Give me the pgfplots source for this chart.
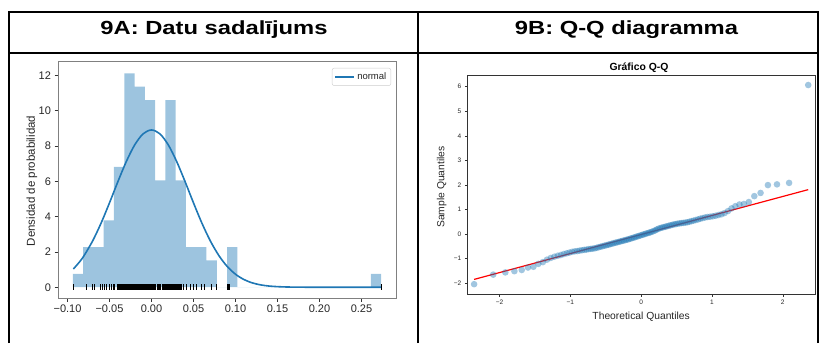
\documentclass[border=0pt]{standalone}
\usepackage{pgfplots}
\pgfplotsset{compat=1.18}
\usepackage{fontspec}
\setmainfont{Liberation Sans}
\usepackage{graphicx}
\definecolor{c0}{HTML}{1F77B4}
\definecolor{barblue}{RGB}{157,196,223}
\begin{document}
\begin{tikzpicture}
\path[use as bounding box] (0pt,0pt) rectangle (821pt,343pt);
% table lines
\draw[line width=2pt] (9pt,0pt) -- (9pt,331pt);
\draw[line width=2pt] (417.5pt,0pt) -- (417.5pt,331pt);
\draw[line width=2pt] (818pt,0pt) -- (818pt,331pt);
\draw[line width=2pt] (8pt,331pt) -- (819pt,331pt);
\draw[line width=2pt] (8pt,289.7pt) -- (819pt,289.7pt);
\node[anchor=base, inner sep=0pt] at (214pt,308.7pt) {\scalebox{1.25}[1]{\fontsize{19}{19}\selectfont\bfseries 9A: Datu sadalījums}};
\node[anchor=base, inner sep=0pt] at (626.5pt,308.7pt) {\scalebox{1.25}[1]{\fontsize{19}{19}\selectfont\bfseries 9B: Q-Q diagramma}};
\node[anchor=base, inner sep=0pt] at (639pt,272.3pt) {\fontsize{10.4}{10.4}\selectfont\bfseries Gráfico Q-Q};

% ---- left: histogram ----
\begin{axis}[
  at={(58pt,45pt)}, anchor=south west, scale only axis,
  width=338pt, height=237pt,
  xmin=-0.1113, xmax=0.2911, ymin=-0.61, ymax=12.81,
  xtick={-0.10,-0.05,0,0.05,0.10,0.15,0.20,0.25},
  xticklabels={−0.10,−0.05,0.00,0.05,0.10,0.15,0.20,0.25},
  ytick={0,2,4,6,8,10,12}, yticklabels={0,2,4,6,8,10,12},
  tick align=outside, xtick pos=left, ytick pos=left,
  major tick length=3.5pt,
  tick style={black!80, line width=0.6pt},
  axis line style={black!50, line width=0.8pt},
  ticklabel style={font=\fontsize{11}{11}\selectfont, text=black!85},
  ylabel={Densidad de probabilidad},
  ylabel style={at={(axis description cs:-0.0769,0.494)}, anchor=center, font=\fontsize{11.5}{11.5}\selectfont, text=black!85},
  legend style={at={(1,1)}, anchor=north east, xshift=-5pt, yshift=-7pt, draw=black!20, rounded corners=2pt, font=\fontsize{9.5}{9.5}\selectfont, inner sep=2.5pt, text=black!85},
  legend cell align=left,
  legend image code/.code={\draw[#1] (0pt,0pt) -- (19pt,0pt);},
]
\addplot[ybar interval, fill=barblue, draw=none, forget plot] coordinates {
(-0.0936,0.757) (-0.0814,2.271) (-0.0691,2.271) (-0.0569,3.785) (-0.0447,6.813)
(-0.0324,12.11) (-0.0202,11.36) (-0.0080,10.60) (0.0043,6.056) (0.0165,10.60)
(0.0287,6.056) (0.0410,2.271) (0.0532,2.271) (0.0654,1.514) (0.0777,0)
(0.0899,2.271) (0.1021,0) (0.2611,0.757) (0.2733,0.757)
};
\addplot[only marks, mark=|, mark size=3pt, black, mark options={line width=0.8pt}, forget plot] coordinates {
(-0.0931,0) (-0.0776,0) (-0.0707,0) (-0.0700,0) (-0.0683,0) (-0.0606,0) (-0.0580,0)
(-0.0561,0) (-0.0533,0) (-0.0500,0) (-0.0472,0) (-0.0455,0)
(-0.0443,0) (-0.0410,0) (-0.0395,0) (-0.0380,0) (-0.0366,0) (-0.0355,0) (-0.0346,0) (-0.0337,0) (-0.0328,0)
(-0.0320,0) (-0.0313,0) (-0.0305,0) (-0.0297,0) (-0.0290,0) (-0.0282,0) (-0.0275,0) (-0.0267,0)
(-0.0260,0) (-0.0252,0) (-0.0245,0) (-0.0237,0) (-0.0230,0) (-0.0222,0) (-0.0214,0) (-0.0207,0)
(-0.0198,0) (-0.0190,0) (-0.0182,0) (-0.0174,0) (-0.0166,0) (-0.0158,0) (-0.0150,0) (-0.0142,0)
(-0.0134,0) (-0.0126,0) (-0.0118,0) (-0.0110,0) (-0.0102,0) (-0.0094,0) (-0.0086,0)
(-0.0076,0) (-0.0068,0) (-0.0059,0) (-0.0050,0) (-0.0042,0) (-0.0033,0) (-0.0024,0) (-0.0016,0)
(-0.0007,0) (0.0002,0) (0.0011,0) (0.0020,0) (0.0029,0) (0.0038,0)
(0.0050,0) (0.0066,0) (0.0081,0) (0.0096,0) (0.0112,0) (0.0127,0) (0.0143,0) (0.0158,0)
(0.0169,0) (0.0177,0) (0.0186,0) (0.0194,0) (0.0203,0) (0.0211,0) (0.0220,0) (0.0228,0)
(0.0237,0) (0.0245,0) (0.0254,0) (0.0262,0) (0.0271,0) (0.0280,0)
(0.0292,0) (0.0300,0) (0.0309,0) (0.0318,0) (0.0330,0) (0.0345,0) (0.0362,0) (0.0385,0)
(0.0420,0) (0.0460,0) (0.0496,0) (0.0540,0) (0.0600,0) (0.0630,0) (0.0710,0) (0.0770,0)
(0.0905,0) (0.0915,0) (0.0925,0) (0.2733,0)
};
\addplot[c0, line width=1.6pt, smooth] coordinates {
(-0.093,1.032) (-0.085,1.472) (-0.08,1.809) (-0.07,2.627) (-0.06,3.631) (-0.05,4.777)
(-0.04,5.978) (-0.03,7.116) (-0.02,8.060) (-0.01,8.686) (0,8.905) (0.01,8.686) (0.02,8.060)
(0.03,7.116) (0.04,5.978) (0.05,4.777) (0.06,3.631) (0.07,2.627) (0.08,1.809) (0.09,1.183)
(0.10,0.737) (0.11,0.437) (0.12,0.246) (0.13,0.132) (0.14,0.067) (0.15,0.033) (0.16,0.015)
(0.17,0.006) (0.18,0.002) (0.20,0.0) (0.23,0) (0.2733,0)
};
\addlegendentry{normal}
\end{axis}

% ---- right: Q-Q ----
\begin{axis}[
  at={(467.3pt,49pt)}, anchor=south west, scale only axis,
  width=347.7pt, height=218.3pt,
  xmin=-2.455, xmax=2.455, ymin=-2.45, ymax=6.45,
  xtick={-2,-1,0,1,2}, xticklabels={−2,−1,0,1,2},
  ytick={-2,-1,0,1,2,3,4,5,6}, yticklabels={−2,−1,0,1,2,3,4,5,6},
  tick align=outside, xtick pos=left, ytick pos=left,
  major tick length=2.5pt,
  tick style={black!80, line width=0.5pt},
  axis line style={black!80, line width=0.8pt},
  ticklabel style={font=\fontsize{6.5}{6.5}\selectfont, text=black!85},
  xlabel={Theoretical Quantiles},
  xlabel style={at={(axis description cs:0.5,0)}, anchor=center, yshift=-22.7pt, font=\fontsize{10.3}{10.3}\selectfont, text=black!85},
  ylabel={Sample Quantiles},
  ylabel style={at={(axis description cs:-0.0736,0.49)}, anchor=center, font=\fontsize{10.3}{10.3}\selectfont, text=black!85},
]
\addplot[only marks, mark=*, mark size=3.3pt, color=c0, mark options={draw opacity=0, fill=c0, fill opacity=0.42}] coordinates {
(-2.359,-2.05) (-2.089,-1.66) (-1.918,-1.57) (-1.790,-1.52) (-1.686,-1.47) (-1.598,-1.37)
(-1.521,-1.34) (-1.451,-1.22) (-1.388,-1.15) (-1.330,-1.05) (-1.276,-0.98) (-1.226,-0.93)
(-1.178,-0.89) (-1.134,-0.86) (-1.092,-0.82) (-1.051,-0.79) (-1.012,-0.76) (-0.974,-0.73)
(-0.937,-0.71) (-0.902,-0.70) (-0.868,-0.68) (-0.835,-0.665) (-0.803,-0.65) (-0.772,-0.64)
(-0.741,-0.62) (-0.711,-0.61) (-0.682,-0.60) (-0.653,-0.585) (-0.625,-0.565) (-0.597,-0.54)
(-0.570,-0.52) (-0.543,-0.50) (-0.516,-0.48) (-0.490,-0.46) (-0.464,-0.44) (-0.439,-0.42)
(-0.414,-0.40) (-0.389,-0.38) (-0.364,-0.36) (-0.340,-0.343) (-0.316,-0.324) (-0.292,-0.306)
(-0.268,-0.287) (-0.244,-0.269) (-0.220,-0.25) (-0.197,-0.232) (-0.174,-0.215) (-0.150,-0.19)
(-0.127,-0.17) (-0.104,-0.15) (-0.081,-0.128) (-0.058,-0.105) (-0.035,-0.087) (-0.012,-0.064)
(0.012,-0.041) (0.035,-0.023) (0.058,0.000) (0.081,0.023) (0.104,0.040) (0.127,0.063)
(0.150,0.086) (0.174,0.115) (0.197,0.142) (0.220,0.18) (0.244,0.209) (0.268,0.237)
(0.292,0.256) (0.316,0.274) (0.340,0.293) (0.364,0.311) (0.389,0.331) (0.414,0.35)
(0.439,0.369) (0.464,0.389) (0.490,0.399) (0.516,0.419) (0.543,0.43) (0.570,0.441)
(0.597,0.451) (0.625,0.463) (0.653,0.475) (0.682,0.497) (0.711,0.52) (0.741,0.543)
(0.772,0.567) (0.803,0.591) (0.835,0.62) (0.868,0.645) (0.902,0.67) (0.937,0.69)
(0.974,0.70) (1.012,0.72) (1.051,0.74) (1.092,0.77) (1.134,0.80) (1.178,0.85)
(1.226,0.93) (1.276,1.04) (1.330,1.13) (1.388,1.20) (1.451,1.22) (1.521,1.30)
(1.598,1.54) (1.686,1.67) (1.790,1.99) (1.918,2.02) (2.089,2.08) (2.359,6.07)
};
\addplot[red, line width=1.2pt] coordinates {(-2.359,-1.855) (2.359,1.805)};
\end{axis}
\end{tikzpicture}
\end{document}
